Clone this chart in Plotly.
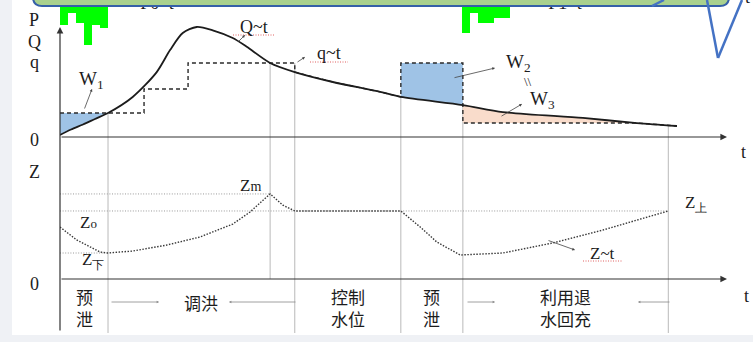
import plotly.graph_objects as go

W, H = 753, 342

# ---------------- data ----------------
# stage boundaries on the time axis (t units); 0 is the origin
t_bounds = [0, 7.2, 35.2, 51.1, 60.4, 91.2]
stage_names = ["预<br>泄", "调洪", "控制<br>水位", "预<br>泄", "利用退<br>水回充"]

# instants marked by vertical guides, and the flow value each guide reaches
t_marks = [7.2, 31.5, 35.2, 51.1, 60.4, 91.2]
guide_top = [21.8, 67.3, 67.3, 36.4, 29.0, 10.6]

# inflow hydrograph Q~t
t_Q = [0, 1.65, 3.45, 5.25, 7.2, 10.9, 14.5, 16.5, 18.4, 20.5, 22.9, 25.9,
       28.0, 31.5, 35.2, 40.9, 48.0, 51.1, 60.4, 66.4, 78.4, 86.5, 92.5]
Q = [1.8, 6.8, 11.4, 16.4, 21.8, 36.4, 59.0, 79.0, 94.5, 100.0, 97.0, 90.0,
     82.0, 67.3, 59.0, 50.0, 41.0, 36.4, 29.0, 22.7, 17.3, 12.7, 10.0]

# outflow q~t: stepped releases (between the steps q follows Q)
t_q_flood = [0, 12.6, 12.6, 19.2, 19.2, 35.2]
q_flood = [21.8, 21.8, 43.6, 43.6, 67.3, 67.3]
t_q_pre = [51.1, 60.4, 60.4, 86.5]
q_pre = [67.3, 67.3, 12.7, 12.7]

# rainfall P~t, two storms
t_P1 = [0.6, 1.8, 3.0, 4.2, 5.4, 6.6]
P1 = [25, 13, 23, 45, 25, 28]
t_P2 = [60.9, 62.1, 63.3, 64.5, 65.7, 66.9]
P2 = [33, 13, 23, 23, 18, 18]
P_bin = 1.2

# reservoir level Z~t
t_Z = [0, 2.5, 6.0, 7.2, 10.9, 16.0, 21.0, 25.9, 28.5, 31.5, 33.4, 35.2,
       51.1, 54.0, 56.5, 60.0, 66.4, 73.9, 81.4, 91.2]
Z = [36.6, 27.5, 19.0, 18.3, 19.7, 23.9, 29.6, 38.7, 47.2, 59.9, 52.0, 47.9,
     47.9, 36.6, 26.0, 16.9, 18.3, 25.4, 34.5, 47.9]
Z_m, Z_0, Z_low = 59.9, 47.9, 18.3

# ---------------- layout helpers ----------------
SERIF = "Liberation Serif"
CJK = "Noto Sans CJK SC"
INK = "#1c1c1c"
GUIDE = "#b9b9b9"


def fx(px):
    return px / W


def fy(py):
    return 1 - py / H


def segs(xs_pairs, ys_pairs):
    xs, ys = [], []
    for (xa, xb), (ya, yb) in zip(xs_pairs, ys_pairs):
        xs += [xa, xb, None]
        ys += [ya, yb, None]
    return xs, ys


def between(ts, vs, lo, hi):
    pts = [(t, v) for t, v in zip(ts, vs) if lo <= t <= hi]
    return [p[0] for p in pts], [p[1] for p in pts]


fig = go.Figure()

# ---- flow panel ----
gx, gy = segs([(t, t) for t in t_marks], [(0, v) for v in guide_top])
fig.add_trace(go.Scatter(x=gx, y=gy, mode="lines", line=dict(color=GUIDE, width=1),
                         xaxis="x", yaxis="y", hoverinfo="skip"))

# W1: inflow stored before the first release step
tw, qw = between(t_Q, Q, 0, t_bounds[1])
fig.add_trace(go.Scatter(x=tw + [0], y=qw + [q_flood[0]], fill="toself", mode="lines",
                         line=dict(width=0), fillcolor="#9fc3e6", xaxis="x", yaxis="y"))
# W2: pre-release volume
tw, qw = between(t_Q, Q, t_q_pre[0], t_q_pre[1])
fig.add_trace(go.Scatter(x=[t_q_pre[0], t_q_pre[1]] + tw[::-1],
                         y=[q_pre[0], q_pre[1]] + qw[::-1], fill="toself", mode="lines",
                         line=dict(width=0), fillcolor="#9fc3e6", xaxis="x", yaxis="y"))
# W3: recession refill
tw, qw = between(t_Q, Q, t_q_pre[2], t_q_pre[3])
fig.add_trace(go.Scatter(x=tw + [t_q_pre[2]], y=qw + [q_pre[3]], fill="toself", mode="lines",
                         line=dict(width=0), fillcolor="#f9dccb", xaxis="x", yaxis="y"))

# q~t assembled from the steps and the stretches that follow Q
t_mid, q_mid = between(t_Q, Q, t_q_flood[-1], t_q_pre[0])
t_end, q_end = between(t_Q, Q, t_q_pre[-1], t_Q[-1])
t_q = t_q_flood + t_mid + t_q_pre + t_end
q_all = q_flood + q_mid + q_pre + q_end
fig.add_trace(go.Scatter(x=t_q, y=q_all, mode="lines",
                         line=dict(color="#2a2a2a", width=1.4, dash="4px,3px"),
                         xaxis="x", yaxis="y"))
fig.add_trace(go.Scatter(x=t_Q, y=Q, mode="lines",
                         line=dict(color=INK, width=1.8, shape="spline", smoothing=0.8),
                         xaxis="x", yaxis="y"))

# ---- level panel ----
gx, gy = segs([(t, t) for t in t_marks], [(0, 100)] * len(t_marks))
fig.add_trace(go.Scatter(x=gx, y=gy, mode="lines", line=dict(color=GUIDE, width=1),
                         xaxis="x", yaxis="y2", hoverinfo="skip"))
rx, ry = segs([(0, t_marks[1]), (0, t_bounds[-1]), (0, t_bounds[1])],
              [(Z_m, Z_m), (Z_0, Z_0), (Z_low, Z_low)])
fig.add_trace(go.Scatter(x=rx, y=ry, mode="lines",
                         line=dict(color="#9a9a9a", width=1, dash="1px,1.6px"),
                         xaxis="x", yaxis="y2"))
fig.add_trace(go.Scatter(x=t_Z, y=Z, mode="lines",
                         line=dict(color="#3a3a3a", width=1.4, dash="1.5px,1.5px"),
                         xaxis="x", yaxis="y2"))

# ---- stage row ----
row_t = t_bounds[1:]
gx, gy = segs([(t, t) for t in row_t], [(0, 1)] * len(row_t))
fig.add_trace(go.Scatter(x=gx, y=gy, mode="lines", line=dict(color=GUIDE, width=1),
                         xaxis="x", yaxis="y3", hoverinfo="skip"))

# ---- rainfall bars and their captions, partly hidden by the callout ----
fig.add_trace(go.Bar(x=t_P1 + t_P2, y=P1 + P2, width=P_bin,
                     marker=dict(color="#00ff00", line=dict(width=0)),
                     xaxis="x", yaxis="y4"))
fig.add_trace(go.Scatter(x=[(157 - 60) / 6.67, (565 - 60) / 6.67], y=[4, 4], mode="text",
                         text=["P0~t", "P1~t"], textfont=dict(family=SERIF, size=18, color=INK),
                         xaxis="x", yaxis="y4"))

shapes = []
# page: grey surround with white slide area
shapes.append(dict(type="rect", xref="paper", yref="paper", x0=fx(12), x1=1, y0=fy(335), y1=1,
                   fillcolor="white", line=dict(width=0), layer="below"))
# callout box with rounded lower corners
x0, x1, y0, y1, r = 33, 729, -30, 6, 9
path = (f"M {fx(x0)},{fy(y0)} L {fx(x0)},{fy(y1 - r)} Q {fx(x0)},{fy(y1)} {fx(x0 + r)},{fy(y1)} "
        f"L {fx(x1 - r)},{fy(y1)} Q {fx(x1)},{fy(y1)} {fx(x1)},{fy(y1 - r)} L {fx(x1)},{fy(y0)} Z")
shapes.append(dict(type="path", xref="paper", yref="paper", path=path, fillcolor="#a9d18e",
                   line=dict(color="#3560a8", width=2), layer="above"))
for (ax_, ay_), (bx_, by_) in [((652, 6), (664, 0)), ((707, 0), (718, 58)), ((718, 58), (742, 0))]:
    shapes.append(dict(type="line", xref="paper", yref="paper", x0=fx(ax_), y0=fy(ay_),
                       x1=fx(bx_), y1=fy(by_), line=dict(color="#4472c4", width=2.5), layer="above"))
# spell-check squiggles under the curve names
for xa, xb, yy in [(233, 275, 35), (310, 348, 62), (583, 622, 261)]:
    shapes.append(dict(type="line", xref="paper", yref="paper", x0=fx(xa), x1=fx(xb), y0=fy(yy), y1=fy(yy),
                       line=dict(color="#e06060", width=1, dash="1px,1.5px"), layer="above"))

ann = []


def label(text, px, py, size=17, family=SERIF, color=INK):
    ann.append(dict(text=text, x=fx(px), y=fy(py), xref="paper", yref="paper", showarrow=False,
                    font=dict(size=size, family=family, color=color), xanchor="center", yanchor="middle"))


def pointer(tail, head, size=0.7, color="#444"):
    ann.append(dict(text="", x=fx(head[0]), y=fy(head[1]), xref="paper", yref="paper",
                    ax=tail[0] - head[0], ay=tail[1] - head[1], axref="pixel", ayref="pixel",
                    showarrow=True, arrowhead=2, arrowsize=size, arrowwidth=0.8, arrowcolor=color))


# axes with arrowheads
ann.append(dict(text="", x=100, y=0, xref="x", yref="y", ax=0, ay=0, axref="x", ayref="y",
                showarrow=True, arrowhead=2, arrowsize=1.1, arrowwidth=1.2, arrowcolor="#333"))
ann.append(dict(text="", x=100, y=0, xref="x", yref="y2", ax=0, ay=0, axref="x", ayref="y2",
                showarrow=True, arrowhead=2, arrowsize=1.1, arrowwidth=1.2, arrowcolor="#333"))
ann.append(dict(text="", x=0, y=100, xref="x", yref="y", ax=0, ay=332 - 27, axref="pixel", ayref="pixel",
                showarrow=True, arrowhead=2, arrowsize=1.1, arrowwidth=1.2, arrowcolor="#333"))

for txt, py in [("P", 20), ("Q", 42), ("q", 62), ("0", 140), ("Z", 172), ("0", 284)]:
    label(txt, 34, py, size=18)
label("t", 743, 152, size=18)
label("t", 746, 296, size=18)
label("t", 747, -3, size=18)

label("W<sub>1</sub>", 91, 80, size=19)
label("Q~t", 254, 27, size=18)
label("q~t", 329, 53, size=18)
label("W<sub>2</sub>", 518, 63, size=19)
label("\\\\", 528, 82, size=13)
label("W<sub>3</sub>", 542, 100, size=19)
label("Z<span style='font-size:14px'>m</span>", 250, 185, size=17)
label("Z<span style='font-size:13px'>o</span>", 88, 222, size=17)
label("Z<sub>下</sub>", 93, 261, size=17)
label("Z<sub>上</sub>", 696, 204, size=17)
label("Z~t", 602, 253, size=17)

pointer((84, 110), (92, 89))
pointer((237, 43), (245, 35))
pointer((296, 63), (305, 57))
pointer((453, 78), (495, 68))
pointer((500, 117), (522, 104))
pointer((547, 240), (575, 250))

# stage names centred inside each stage
for name, ta, tb in zip(stage_names, t_bounds[:-1], t_bounds[1:]):
    tc = (ta + tb) / 2
    ann.append(dict(text=name, x=tc, y=fy(302 if "<br>" not in name else 307.5), xref="x", yref="paper",
                    showarrow=False, font=dict(size=17, family=CJK, color=INK),
                    xanchor="center", yanchor="middle"))
for tail, head in [((110, 302), (159, 302)), ((297, 302), (229, 302)),
                   ((466, 302), (495, 302)), ((671, 302), (638, 302))]:
    pointer(tail, head, size=0.6, color="#888")

axis_off = dict(visible=False, showgrid=False, zeroline=False, fixedrange=True)
fig.update_layout(
    width=W, height=H, margin=dict(l=0, r=0, t=0, b=0),
    paper_bgcolor="#eff1f5", plot_bgcolor="rgba(0,0,0,0)",
    showlegend=False, bargap=0,
    xaxis=dict(domain=[fx(60), fx(727)], range=[0, 100], anchor="y", **axis_off),
    yaxis=dict(domain=[fy(137), fy(16)], range=[0, 110], anchor="x", **axis_off),
    yaxis2=dict(domain=[fy(279), fy(137)], range=[0, 100], anchor="x", **axis_off),
    yaxis3=dict(domain=[fy(333), fy(279)], range=[0, 1], anchor="x", **axis_off),
    yaxis4=dict(domain=[fy(50), fy(0)], range=[50, 0], anchor="x", **axis_off),
    shapes=shapes, annotations=ann,
)

fig.write_html("out.html")
